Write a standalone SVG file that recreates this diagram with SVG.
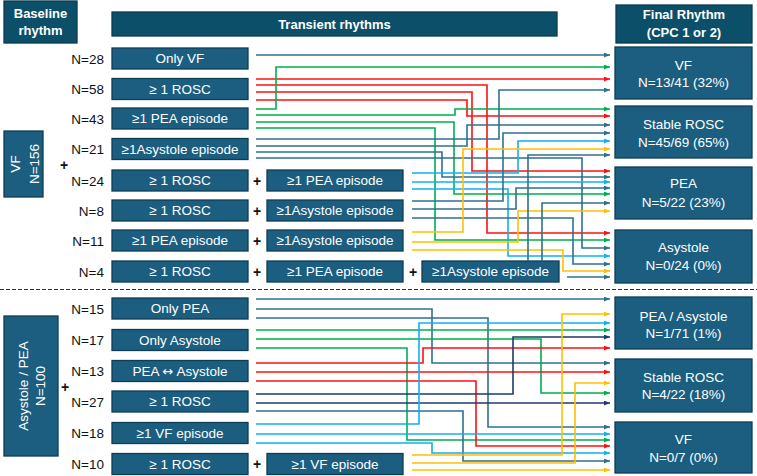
<svg xmlns="http://www.w3.org/2000/svg" width="757" height="476" viewBox="0 0 757 476">
<style>
.bx{fill:#1b5e80;stroke:#0f3d54;stroke-width:1.3}
.hd{fill:#0c4f69;stroke:#0a3a50;stroke-width:1.3}
.t{font-family:"Liberation Sans",Arial,sans-serif;font-size:13.5px;fill:#fff;text-anchor:middle}
.th{font-family:"Liberation Sans",Arial,sans-serif;font-size:13px;font-weight:bold;fill:#fff;text-anchor:middle}
.n{font-family:"Liberation Sans",Arial,sans-serif;font-size:13.5px;fill:#111;text-anchor:end}
.p{font-family:"Liberation Sans",Arial,sans-serif;font-size:14px;font-weight:bold;fill:#111;text-anchor:middle}
.c{fill:none;stroke-width:1.6}
.b{stroke:#30708f;marker-end:url(#mb)}
.g{stroke:#00b050;marker-end:url(#mg)}
.r{stroke:#ff1010;marker-end:url(#mr)}
.l{stroke:#12b0ee;marker-end:url(#ml)}
.y{stroke:#ffc000;marker-end:url(#my)}
.v{stroke:#1f3a68;marker-end:url(#mv)}
</style>
<defs>
<marker id="mb" viewBox="0 0 6 5" refX="6" refY="2.5" markerWidth="6" markerHeight="5" markerUnits="userSpaceOnUse" orient="auto"><path d="M0,0L6,2.5L0,5z" fill="#30708f"/></marker>
<marker id="mg" viewBox="0 0 6 5" refX="6" refY="2.5" markerWidth="6" markerHeight="5" markerUnits="userSpaceOnUse" orient="auto"><path d="M0,0L6,2.5L0,5z" fill="#00b050"/></marker>
<marker id="mr" viewBox="0 0 6 5" refX="6" refY="2.5" markerWidth="6" markerHeight="5" markerUnits="userSpaceOnUse" orient="auto"><path d="M0,0L6,2.5L0,5z" fill="#ff1010"/></marker>
<marker id="ml" viewBox="0 0 6 5" refX="6" refY="2.5" markerWidth="6" markerHeight="5" markerUnits="userSpaceOnUse" orient="auto"><path d="M0,0L6,2.5L0,5z" fill="#12b0ee"/></marker>
<marker id="my" viewBox="0 0 6 5" refX="6" refY="2.5" markerWidth="6" markerHeight="5" markerUnits="userSpaceOnUse" orient="auto"><path d="M0,0L6,2.5L0,5z" fill="#ffc000"/></marker>
<marker id="mv" viewBox="0 0 6 5" refX="6" refY="2.5" markerWidth="6" markerHeight="5" markerUnits="userSpaceOnUse" orient="auto"><path d="M0,0L6,2.5L0,5z" fill="#1f3a68"/></marker>
</defs>
<rect width="757" height="476" fill="#fff"/>

<!-- headers -->
<g id="hdr-baseline"><rect class="hd" x="4" y="1" width="73" height="42"/><text class="th" x="40.5" y="17.5">Baseline</text><text class="th" x="40.5" y="35">rhythm</text></g>
<g id="hdr-transient"><rect class="hd" x="112" y="12" width="445" height="24"/><text class="th" x="334.5" y="28.5">Transient rhythms</text></g>
<g id="hdr-final"><rect class="hd" x="616" y="5" width="136" height="38"/><text class="th" x="684" y="18.5">Final Rhythm</text><text class="th" x="684" y="37">(CPC 1 or 2)</text></g>

<!-- baseline boxes -->
<g id="base-vf"><rect class="bx" x="4" y="131" width="39" height="66"/><text class="t" transform="translate(20,164) rotate(-90)">VF</text><text class="t" transform="translate(38.5,164) rotate(-90)">N=156</text></g>
<g id="base-asys"><rect class="bx" x="4" y="316" width="54" height="140"/><text class="t" transform="translate(27.5,386) rotate(-90)">Asystole / PEA</text><text class="t" transform="translate(45,386) rotate(-90)">N=100</text></g>
<text class="p" x="64" y="170">+</text>
<text class="p" x="65" y="392">+</text>

<!-- N labels -->
<g id="nlabels">
<text class="n" x="104" y="63.5">N=28</text>
<text class="n" x="104" y="94">N=58</text>
<text class="n" x="104" y="123.5">N=43</text>
<text class="n" x="104" y="154">N=21</text>
<text class="n" x="104" y="185.5">N=24</text>
<text class="n" x="104" y="215.5">N=8</text>
<text class="n" x="104" y="245.5">N=11</text>
<text class="n" x="104" y="276.5">N=4</text>
<text class="n" x="104" y="313.5">N=15</text>
<text class="n" x="104" y="345">N=17</text>
<text class="n" x="104" y="376">N=13</text>
<text class="n" x="104" y="406.5">N=27</text>
<text class="n" x="104" y="438">N=18</text>
<text class="n" x="104" y="469">N=10</text>
</g>

<!-- transient boxes column 1 -->
<g id="t-onlyvf"><rect class="bx" x="112" y="48" width="136" height="21"/><text class="t" x="180" y="63.3">Only VF</text></g>
<g id="t-rosc1"><rect class="bx" x="112" y="78.5" width="136" height="21"/><text class="t" x="180" y="93.8">≥ 1 ROSC</text></g>
<g id="t-pea1"><rect class="bx" x="112" y="108" width="136" height="21"/><text class="t" x="180" y="123.3">≥1 PEA episode</text></g>
<g id="t-asys1"><rect class="bx" x="112" y="138.5" width="136" height="21"/><text class="t" x="180" y="153.8">≥1Asystole episode</text></g>
<g id="t-rosc2"><rect class="bx" x="112" y="170" width="136" height="21"/><text class="t" x="180" y="185.3">≥ 1 ROSC</text></g>
<g id="t-rosc3"><rect class="bx" x="112" y="200" width="136" height="21"/><text class="t" x="180" y="215.3">≥ 1 ROSC</text></g>
<g id="t-pea2"><rect class="bx" x="112" y="230" width="136" height="21"/><text class="t" x="180" y="245.3">≥1 PEA episode</text></g>
<g id="t-rosc4"><rect class="bx" x="112" y="261" width="136" height="21"/><text class="t" x="180" y="276.3">≥ 1 ROSC</text></g>
<g id="t-onlypea"><rect class="bx" x="112" y="298" width="136" height="21"/><text class="t" x="180" y="313.3">Only PEA</text></g>
<g id="t-onlyasys"><rect class="bx" x="112" y="329.5" width="136" height="21"/><text class="t" x="180" y="344.8">Only Asystole</text></g>
<g id="t-peaasys"><rect class="bx" x="112" y="360.5" width="136" height="21"/><text class="t" x="180" y="375.8">PEA <tspan font-family="'DejaVu Sans',sans-serif" font-size="13px">↔</tspan> Asystole</text></g>
<g id="t-rosc5"><rect class="bx" x="112" y="391" width="136" height="21"/><text class="t" x="180" y="406.3">≥ 1 ROSC</text></g>
<g id="t-vf1"><rect class="bx" x="112" y="422.5" width="136" height="21"/><text class="t" x="180" y="437.8">≥1 VF episode</text></g>
<g id="t-rosc6"><rect class="bx" x="112" y="453.5" width="136" height="21"/><text class="t" x="180" y="468.8">≥ 1 ROSC</text></g>

<!-- column 2 -->
<g id="t2-pea"><rect class="bx" x="267" y="170" width="136" height="21"/><text class="t" x="335" y="185.3">≥1 PEA episode</text></g>
<g id="t2-asys1"><rect class="bx" x="267" y="200" width="136" height="21"/><text class="t" x="335" y="215.3">≥1Asystole episode</text></g>
<g id="t2-asys2"><rect class="bx" x="267" y="230" width="136" height="21"/><text class="t" x="335" y="245.3">≥1Asystole episode</text></g>
<g id="t2-pea2"><rect class="bx" x="267" y="261" width="136" height="21"/><text class="t" x="335" y="276.3">≥1 PEA episode</text></g>
<g id="t2-vf"><rect class="bx" x="267" y="453.5" width="136" height="21"/><text class="t" x="335" y="468.8">≥1 VF episode</text></g>
<g id="t3-asys"><rect class="bx" x="422" y="261" width="137" height="21"/><text class="t" x="490.5" y="276.3">≥1Asystole episode</text></g>
<text class="p" x="257" y="185.5">+</text>
<text class="p" x="257" y="215.5">+</text>
<text class="p" x="257" y="245.5">+</text>
<text class="p" x="257" y="276.5">+</text>
<text class="p" x="413" y="276.5">+</text>
<text class="p" x="257" y="469">+</text>

<!-- final boxes -->
<g id="f-vf"><rect class="bx" x="615" y="47" width="137" height="52"/><text class="t" x="683.5" y="70">VF</text><text class="t" x="683.5" y="87">N=13/41 (32%)</text></g>
<g id="f-rosc"><rect class="bx" x="615" y="106" width="137" height="52"/><text class="t" x="683.5" y="129">Stable ROSC</text><text class="t" x="683.5" y="146.5">N=45/69 (65%)</text></g>
<g id="f-pea"><rect class="bx" x="615" y="167" width="137" height="52"/><text class="t" x="683.5" y="188">PEA</text><text class="t" x="683.5" y="206.5">N=5/22 (23%)</text></g>
<g id="f-asys"><rect class="bx" x="615" y="230" width="137" height="53"/><text class="t" x="683.5" y="252">Asystole</text><text class="t" x="683.5" y="270">N=0/24 (0%)</text></g>
<g id="f-peaasys"><rect class="bx" x="615" y="297" width="137" height="52"/><text class="t" x="683.5" y="321">PEA / Asystole</text><text class="t" x="683.5" y="338">N=1/71 (1%)</text></g>
<g id="f-rosc2"><rect class="bx" x="615" y="359" width="137" height="53"/><text class="t" x="683.5" y="381.5">Stable ROSC</text><text class="t" x="683.5" y="399">N=4/22 (18%)</text></g>
<g id="f-vf2"><rect class="bx" x="615" y="422" width="137" height="51"/><text class="t" x="683.5" y="444">VF</text><text class="t" x="683.5" y="462">N=0/7 (0%)</text></g>

<line x1="0" y1="289.5" x2="757" y2="289.5" stroke="#333" stroke-width="1.2" stroke-dasharray="4,2"/>

<!-- connectors -->
<g id="connectors" class="c">
<path class="c b" d="M256,55H610"/>
<path class="c r" d="M256,79H610"/>
<path class="c r" d="M256,85H487V233H610"/>
<path class="c r" d="M256,92H472V171H610"/>
<path class="c r" d="M256,100H467V116H610"/>
<path class="c g" d="M256,109H276V67H610"/>
<path class="c g" d="M256,115H455V109H610"/>
<path class="c g" d="M256,122H454V194H610"/>
<path class="c g" d="M256,128H435V240H610"/>
<path class="c b" d="M256,139H499V90H610"/>
<path class="c b" d="M256,146H467V125H610"/>
<path class="c b" d="M256,152H442V177H610"/>
<path class="c b" d="M256,158H582V248H610"/>
<path class="c l" d="M412,173H518V141H610"/>
<path class="c l" d="M412,182H610"/>
<path class="c l" d="M412,189H508V256H610"/>
<path class="c b" d="M412,201H503V133H610"/>
<path class="c b" d="M412,209H516V188H610"/>
<path class="c b" d="M412,218H573V264H610"/>
<path class="c y" d="M412,232H463V149H610"/>
<path class="c y" d="M412,242H518V211H610"/>
<path class="c y" d="M412,250H563V271H610"/>
<path class="c b" d="M528,261V155H610"/>
<path class="c b" d="M542,261V203H610"/>
<path class="c b" d="M567,277H610"/>

<path class="c b" d="M256,299H610"/>
<path class="c b" d="M256,309H432V363H610"/>
<path class="c b" d="M256,318H488V427H610"/>
<path class="c g" d="M256,330H610"/>
<path class="c g" d="M256,339H541V393H610"/>
<path class="c g" d="M256,348H407V440H610"/>
<path class="c r" d="M256,363H423V348H610"/>
<path class="c r" d="M256,372H610"/>
<path class="c r" d="M256,381H476V446H610"/>
<path class="c v" d="M256,394H513V337H610"/>
<path class="c v" d="M256,403H610"/>
<path class="c b" d="M256,411H463V461H610"/>
<path class="c l" d="M256,424H419V323H610"/>
<path class="c l" d="M256,434H610"/>
<path class="c l" d="M256,443H432V453H610"/>
<path class="c y" d="M412,455H562V314H610"/>
<path class="c y" d="M412,463H575V383H610"/>
<path class="c y" d="M412,470H610"/>
</g>
</svg>
